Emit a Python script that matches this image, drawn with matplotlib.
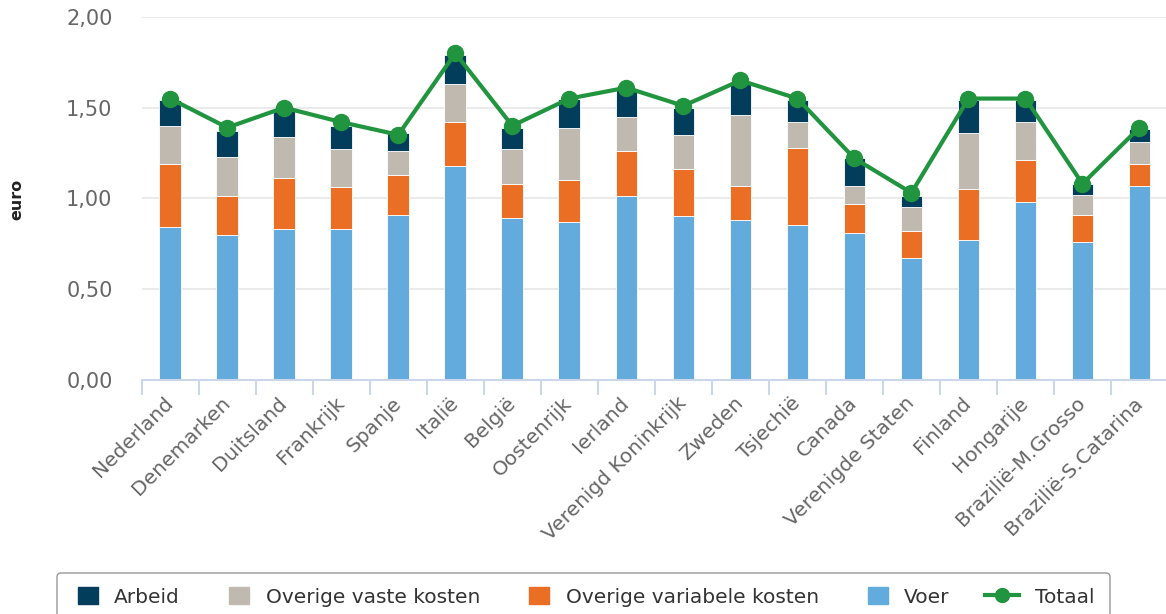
import matplotlib
matplotlib.use("Agg")
import matplotlib.pyplot as plt
import numpy as np
from matplotlib.legend_handler import HandlerLine2D
from matplotlib.patches import FancyBboxPatch, Patch
from matplotlib.lines import Line2D
from matplotlib.ticker import FuncFormatter
from matplotlib.transforms import IdentityTransform

# Kostprijs per kg melk (euro), per land
landen = ["Nederland", "Denemarken", "Duitsland", "Frankrijk", "Spanje", "Italië",
          "België", "Oostenrijk", "Ierland", "Verenigd Koninkrijk", "Zweden",
          "Tsjechië", "Canada", "Verenigde Staten", "Finland", "Hongarije",
          "Brazilië-M.Grosso", "Brazilië-S.Catarina"]
voer = [0.84, 0.80, 0.83, 0.83, 0.91, 1.18, 0.89, 0.87, 1.01, 0.90, 0.88,
        0.85, 0.81, 0.67, 0.77, 0.98, 0.76, 1.07]
overige_variabele = [0.35, 0.21, 0.28, 0.23, 0.22, 0.24, 0.19, 0.23, 0.25, 0.26, 0.19,
                     0.43, 0.16, 0.15, 0.28, 0.23, 0.15, 0.12]
overige_vaste = [0.21, 0.22, 0.23, 0.21, 0.13, 0.21, 0.19, 0.29, 0.19, 0.19, 0.39,
                 0.14, 0.10, 0.13, 0.31, 0.21, 0.11, 0.12]
arbeid = [0.14, 0.14, 0.14, 0.13, 0.10, 0.16, 0.12, 0.16, 0.15, 0.15, 0.18,
          0.12, 0.15, 0.06, 0.18, 0.12, 0.06, 0.07]
totaal = [1.55, 1.39, 1.50, 1.42, 1.35, 1.80, 1.40, 1.55, 1.61, 1.51, 1.65,
          1.55, 1.22, 1.03, 1.55, 1.55, 1.08, 1.39]
y_ticks = [0.0, 0.5, 1.0, 1.5, 2.0]

C_ARBEID = "#033d5c"
C_VAST = "#c0b9af"
C_VAR = "#ea6f24"
C_VOER = "#64abdd"
C_TOTAAL = "#21943f"
C_LABEL = "#666666"
C_AXIS = "#ccd6eb"

W, H = 1166, 614
fig = plt.figure(figsize=(W / 100, H / 100), dpi=100)
ax = fig.add_axes([141.7 / W, 1 - 379.5 / H, (1168 - 141.7) / W, (379.5 - 17) / H])

x = np.arange(len(landen))
bar_w = 0.38
bottom = np.zeros(len(landen))
for vals, col in [(voer, C_VOER), (overige_variabele, C_VAR),
                  (overige_vaste, C_VAST), (arbeid, C_ARBEID)]:
    ax.bar(x, vals, bar_w, bottom=bottom, color=col, edgecolor="white",
           linewidth=0.6, zorder=2)
    bottom += np.array(vals)

ax.plot(x, totaal, color=C_TOTAAL, lw=3, marker="o", ms=11.5, zorder=3,
        solid_joinstyle="round")

ax.set_xlim(-0.5, len(landen) - 0.5)
ax.set_ylim(0, 2)
ax.set_yticks(y_ticks)
ax.yaxis.set_major_formatter(FuncFormatter(lambda v, p: f"{v:.2f}".replace(".", ",")))
ax.grid(axis="y", color="#e6e6e6", lw=1.2, zorder=0)
ax.set_axisbelow(True)
for s in ["left", "right", "top"]:
    ax.spines[s].set_visible(False)
ax.spines["bottom"].set_color(C_AXIS)
ax.spines["bottom"].set_linewidth(1.5)
ax.spines["bottom"].set_zorder(4)

ax.tick_params(axis="y", length=0, pad=21, labelsize=15, labelcolor=C_LABEL)
ax.set_xticks(x)
ax.set_xticklabels(landen, rotation=45, ha="right", va="center",
                   rotation_mode="anchor", fontsize=14.5, color=C_LABEL)
ax.tick_params(axis="x", which="major", length=0, pad=15)
ax.set_xticks(np.arange(-0.5, len(landen), 1), minor=True)
ax.tick_params(axis="x", which="minor", length=11, width=1.5, color=C_AXIS)

fig.text(17 / W, 1 - 199 / H, "euro", rotation=90, fontweight="bold",
         fontsize=11.5, ha="center", va="center", color="#222222")

# legend frame (runs off the bottom edge)
frame = FancyBboxPatch((57, 614 - 640), 1110 - 57, 640 - 573,
                       boxstyle="round,pad=0,rounding_size=4",
                       transform=IdentityTransform(), fc="white", ec="#999999", lw=1)
fig.add_artist(frame)


class WideLine(HandlerLine2D):
    def create_artists(self, legend, orig_handle, xdescent, ydescent, width,
                       height, fontsize, trans):
        extra = 0.7 * fontsize
        return super().create_artists(legend, orig_handle, xdescent + extra,
                                      ydescent, width + extra, height, fontsize, trans)


handles = [Patch(color=C_ARBEID), Patch(color=C_VAST), Patch(color=C_VAR),
           Patch(color=C_VOER),
           Line2D([], [], color=C_TOTAAL, lw=3, marker="o", ms=10)]
labels = ["Arbeid", "Overige vaste kosten", "Overige variabele kosten", "Voer", "Totaal"]
fig.legend(handles, labels, loc="center left", bbox_to_anchor=(78 / W, 1 - 597 / H),
           ncol=5, frameon=False, fontsize=14.5, handlelength=1.0, handleheight=0.9,
           handletextpad=0.8, columnspacing=2.45, borderpad=0, borderaxespad=0,
           labelcolor="#333333", handler_map={Line2D: WideLine()})

fig.savefig("out.png", dpi=100)
